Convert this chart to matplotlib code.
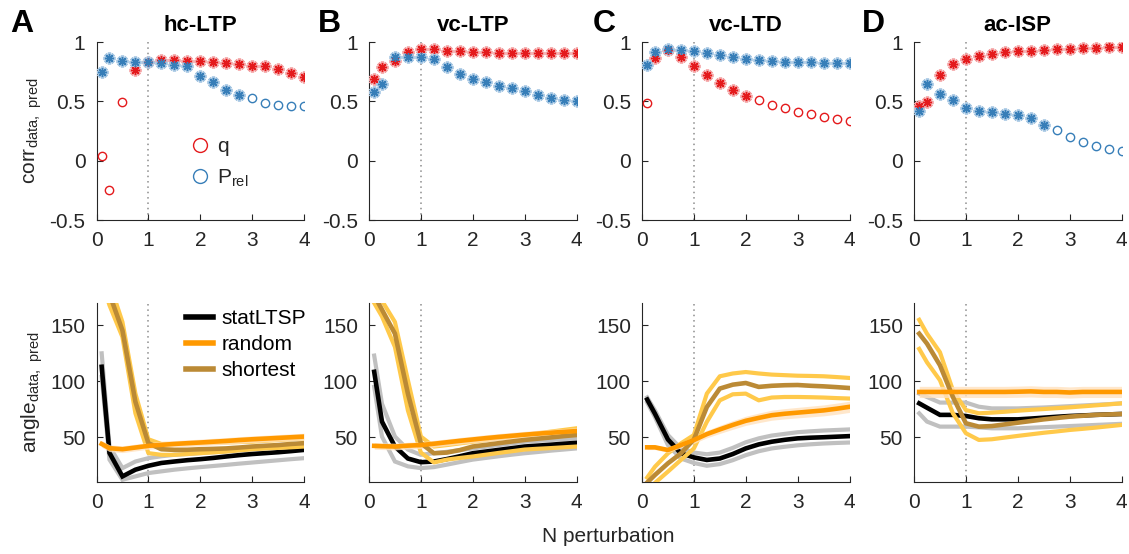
import numpy as np
import matplotlib
matplotlib.use("Agg")
import matplotlib.pyplot as plt
from matplotlib.lines import Line2D

plt.rcParams['font.family'] = ['Liberation Sans', 'DejaVu Sans']
plt.rcParams['mathtext.fontset'] = 'custom'
plt.rcParams['mathtext.rm'] = 'Liberation Sans'

# ---------------- data ----------------
panels = ["hc-LTP", "vc-LTP", "vc-LTD", "ac-ISP"]
letters = ["A", "B", "C", "D"]
n_pert = [0.1, 0.25, 0.5, 0.75, 1.0, 1.25, 1.5, 1.75, 2.0, 2.25, 2.5, 2.75, 3.0, 3.25, 3.5, 3.75, 4.0]

# correlation (top row): q (red) and P_rel (blue); sig = 1 -> asterisk, 0 -> open circle
corr_q_A = [0.04, -0.245, 0.494, 0.76, 0.834, 0.85, 0.85, 0.84, 0.84, 0.834, 0.826, 0.817, 0.795, 0.80, 0.77, 0.74, 0.705]
sig_q_A = [0, 0, 0, 1, 1, 1, 1, 1, 1, 1, 1, 1, 1, 1, 1, 1, 1]
corr_p_A = [0.747, 0.862, 0.837, 0.834, 0.834, 0.82, 0.81, 0.795, 0.713, 0.66, 0.598, 0.553, 0.525, 0.49, 0.466, 0.46, 0.458]
sig_p_A = [1, 1, 1, 1, 1, 1, 1, 1, 1, 1, 1, 1, 0, 0, 0, 0, 0]

corr_q_B = [0.685, 0.79, 0.837, 0.913, 0.938, 0.938, 0.927, 0.924, 0.918, 0.916, 0.91, 0.91, 0.907, 0.907, 0.907, 0.907, 0.907]
sig_q_B = [1] * 17
corr_p_B = [0.58, 0.643, 0.87, 0.87, 0.874, 0.854, 0.79, 0.733, 0.69, 0.66, 0.632, 0.612, 0.587, 0.556, 0.53, 0.51, 0.503]
sig_p_B = [1] * 17

corr_q_C = [0.49, 0.862, 0.93, 0.874, 0.798, 0.722, 0.657, 0.593, 0.542, 0.508, 0.472, 0.44, 0.413, 0.39, 0.368, 0.35, 0.334]
sig_q_C = [0, 1, 1, 1, 1, 1, 1, 1, 1, 0, 0, 0, 0, 0, 0, 0, 0]
corr_p_C = [0.81, 0.913, 0.94, 0.935, 0.924, 0.907, 0.89, 0.87, 0.86, 0.848, 0.84, 0.83, 0.83, 0.83, 0.826, 0.826, 0.82]
sig_p_C = [1] * 17

corr_q_D = [0.463, 0.494, 0.72, 0.815, 0.854, 0.88, 0.90, 0.913, 0.92, 0.927, 0.935, 0.94, 0.944, 0.95, 0.952, 0.955, 0.96]
sig_q_D = [1] * 17
corr_p_D = [0.416, 0.646, 0.562, 0.508, 0.447, 0.42, 0.407, 0.393, 0.385, 0.357, 0.303, 0.256, 0.197, 0.154, 0.124, 0.098, 0.079]
sig_p_D = [1, 1, 1, 1, 1, 1, 1, 1, 1, 1, 1, 0, 0, 0, 0, 0, 0]

# angle (bottom row)
stat_A = [113, 36, 15, 21, 24.5, 27, 28.3, 29.5, 30.4, 31.5, 32.8, 34, 35, 35.8, 36.6, 37.6, 38.7]
stat_hi_A = [125, 42, 22.4, 28.3, 31.3, 33, 34.3, 35, 35.8, 36.6, 37.4, 38.4, 39.3, 40.2, 41.2, 42, 43]
stat_lo_A = [104, 30, 12, 15, 18, 19.5, 21, 22.2, 23.3, 24.3, 25.3, 26.4, 27.4, 28.4, 29.4, 30.4, 31.3]
rand_A = [44, 40.2, 39.3, 40.8, 42.3, 43.2, 44, 44.7, 45.3, 46, 46.7, 47.5, 48.2, 48.8, 49.4, 50, 50.6]
rand_err_A = [3, 3, 3, 3, 3, 3, 3, 3, 3, 3, 3, 3, 3, 3, 3, 3, 3]
short_A = [197, 178, 145.5, 81.7, 44.7, 39.3, 38.7, 38.8, 39.3, 39.6, 40, 40.8, 41.7, 42.4, 43, 44, 44.7]
short_hi_A = [205, 188, 153, 89, 48.2, 44, 44, 44.3, 44.7, 45, 45.3, 45.7, 46, 46.8, 47.5, 48.2, 49]
short_lo_A = [190, 168, 139.6, 71.4, 35.8, 34.3, 34.3, 35, 35.8, 36.5, 37.2, 38.3, 39.3, 40, 40.5, 41, 41.7]

stat_B = [108.5, 64, 41.7, 31, 27.7, 28.3, 30.5, 33, 35.7, 37.2, 38.7, 40.2, 41.7, 42.5, 43.3, 44.2, 45]
stat_hi_B = [123, 80, 50.6, 39, 34.3, 35.7, 37, 38.5, 40, 41.5, 43, 44.5, 46, 46.8, 47.5, 48.3, 49]
stat_lo_B = [95, 50.6, 28.3, 24, 22.4, 23.3, 25.5, 27.8, 30, 31.5, 33, 34.4, 35.7, 36.8, 38, 39, 40]
rand_B = [42.3, 42, 41.7, 42.5, 43, 44.2, 45.5, 46.8, 48, 49.2, 50.3, 51.3, 52.3, 53.2, 54, 54.8, 55.5]
rand_err_B = [3, 3, 3, 3, 3, 3, 3, 3, 3, 3, 3, 3, 3, 3, 3, 3, 3]
short_B = [177, 164, 142.6, 89, 44.7, 35.7, 36.3, 38.5, 41.7, 43.2, 44.7, 46.2, 47.6, 48.7, 49.8, 51, 52]
short_hi_B = [185, 172, 153, 101, 50.6, 41.7, 43, 44.5, 46, 47.5, 49, 50.5, 52, 53.5, 55, 56.5, 58]
short_lo_B = [170, 158, 130.7, 74, 36.3, 27.5, 30, 31.5, 32.8, 34.4, 36, 37.5, 39, 39.7, 40.3, 41, 41.7]

stat_C = [83.7, 71, 48, 35.6, 32, 29.7, 31, 35, 40, 43.6, 46, 47.7, 49, 49.6, 50, 50.5, 51]
stat_hi_C = [85.6, 74, 52, 40, 36.3, 34.8, 36.3, 40.5, 45.5, 49, 51.5, 53, 54.5, 55.3, 56, 56.5, 57]
stat_lo_C = [81, 68, 43, 31, 27, 24.5, 26, 29.5, 34, 37.5, 40, 41.5, 42.8, 43.7, 44.4, 44.9, 45.3]
rand_C = [41, 41, 38.6, 43, 47.5, 52.8, 57, 61, 64.7, 67.3, 69.7, 71, 72, 73, 74, 75.5, 77.2]
rand_err_C = [2, 2, 2.2, 2.5, 3, 3.3, 3.6, 3.9, 4.1, 4.3, 4.5, 4.6, 4.7, 4.8, 4.9, 5, 5]
short_C = [9.5, 16.3, 26.7, 35.6, 48, 77, 93.5, 97, 98.5, 95, 96, 96.5, 96.7, 96, 95.5, 94.8, 94]
short_hi_C = [14, 23.7, 35.6, 44.5, 52, 89, 104.5, 107, 108.3, 107, 106, 105.5, 105, 104.8, 104.5, 103.8, 103]
short_lo_C = [3, 9.2, 19.3, 29.7, 40, 63.8, 83, 88.4, 89, 83, 85.5, 86, 86, 85.8, 85.5, 85, 84.6]

stat_D = [80.3, 76.4, 70, 70, 69, 67, 66, 66, 66, 66.7, 67.5, 68.3, 69, 69.5, 70, 70.4, 70.8]
stat_hi_D = [89, 86, 81, 81, 81, 77.3, 75.8, 75.8, 75.8, 76.2, 76.6, 77.2, 77.8, 78.4, 79, 79.6, 80.3]
stat_lo_D = [71.4, 64, 59.5, 59.5, 59.5, 58.8, 58, 58, 58, 58.5, 59, 59.5, 60, 60.5, 61, 61.5, 62]
rand_D = [90.5, 90.5, 90.5, 90.5, 90.5, 90.5, 90.5, 90.5, 90.7, 91, 90.5, 90.5, 90, 90.5, 90.5, 90.5, 90.5]
rand_err_D = [5, 5, 5, 5, 5, 5, 5, 5, 5, 5, 5, 5, 5, 5, 5, 5, 5]
short_D = [142.6, 133.7, 114.4, 86, 62.5, 59.5, 60, 61.5, 63, 64.5, 66, 67.2, 68.4, 69.2, 70, 70.4, 70.8]
short_hi_D = [155, 142.6, 126, 92, 74.3, 71.4, 72, 72.8, 73.7, 74.5, 75.2, 76, 76.7, 77.6, 78.5, 79.4, 80.3]
short_lo_D = [129, 117, 101, 71.4, 53.6, 47.6, 48.2, 49.7, 51.2, 52.6, 54, 55.2, 56.5, 57.5, 58.6, 59.8, 61]

corr_q = [corr_q_A, corr_q_B, corr_q_C, corr_q_D]
sig_q = [sig_q_A, sig_q_B, sig_q_C, sig_q_D]
corr_p = [corr_p_A, corr_p_B, corr_p_C, corr_p_D]
sig_p = [sig_p_A, sig_p_B, sig_p_C, sig_p_D]
stat = [stat_A, stat_B, stat_C, stat_D]
stat_hi = [stat_hi_A, stat_hi_B, stat_hi_C, stat_hi_D]
stat_lo = [stat_lo_A, stat_lo_B, stat_lo_C, stat_lo_D]
rand = [rand_A, rand_B, rand_C, rand_D]
rand_err = [rand_err_A, rand_err_B, rand_err_C, rand_err_D]
short = [short_A, short_B, short_C, short_D]
short_hi = [short_hi_A, short_hi_B, short_hi_C, short_hi_D]
short_lo = [short_lo_A, short_lo_B, short_lo_C, short_lo_D]

# ---------------- style ----------------
RED, RED_L = '#e41a1c', '#f4a3a4'
BLUE, BLUE_L = '#377eb8', '#a6c7e3'
BLACK, GRAY = '#000000', '#c0c0c0'
ORANGE, ORANGE_L = '#ff9900', '#ffe2bf'
BROWN, YELLOW = '#bb8a35', '#ffc94a'
AX = '#262626'
FS = 15
W, H = 1129, 554
STAR = (8, 2, 0)

fig = plt.figure(figsize=(W / 100, H / 100), dpi=100)
lefts = [96.5, 369, 642, 914]
letter_x = [10, 318, 593, 862]
aw = 207.5
x = np.array(n_pert)


def style_axes(ax):
    for s in ['top', 'right']:
        ax.spines[s].set_visible(False)
    for s in ['left', 'bottom']:
        ax.spines[s].set_color(AX)
        ax.spines[s].set_linewidth(0.8)
    ax.tick_params(direction='in', length=4, width=0.8, colors=AX,
                   labelsize=FS, pad=8)
    ax.set_xlim(0, 4)
    ax.set_xticks([0, 1, 2, 3, 4])
    ax.axvline(1, color='#8c8c8c', linestyle=(0, (1, 2.5)), linewidth=1.1, zorder=0)


def draw_corr(ax, vals, sig, col, col_l):
    v = np.array(vals)
    s = np.array(sig, dtype=bool)
    ax.plot(x[s], v[s], linestyle='none', marker=STAR, markersize=8.5,
            markeredgewidth=2.4, color=col_l, zorder=3)
    ax.plot(x[s], v[s], linestyle='none', marker=STAR, markersize=6.5,
            markeredgewidth=1.0, color=col, zorder=4)
    ax.plot(x[~s], v[~s], linestyle='none', marker='o', markersize=6,
            markerfacecolor='none', markeredgewidth=1.0, color=col, zorder=4)


for i in range(4):
    # top row
    ax = fig.add_axes([lefts[i] / W, 1 - 220 / H, aw / W, 178 / H])
    style_axes(ax)
    ax.set_ylim(-0.5, 1)
    ax.set_yticks([-0.5, 0, 0.5, 1])
    ax.set_yticklabels(['-0.5', '0', '0.5', '1'])
    draw_corr(ax, corr_q[i], sig_q[i], RED, RED_L)
    draw_corr(ax, corr_p[i], sig_p[i], BLUE, BLUE_L)
    ax.set_title(panels[i], fontsize=16, fontweight='bold', pad=8, color='black')
    fig.text(letter_x[i] / W, 1 - 24 / H, letters[i], fontsize=23,
             fontweight='bold', ha='left', va='center')
    if i == 0:
        ax.set_ylabel(r'corr$_{\mathregular{data,\ pred}}$', fontsize=FS, color=AX, labelpad=4)
        hs = [Line2D([], [], linestyle='none', marker='o', markersize=10,
                     markerfacecolor='none', markeredgecolor=RED, markeredgewidth=1.0),
              Line2D([], [], linestyle='none', marker='o', markersize=10,
                     markerfacecolor='none', markeredgecolor=BLUE, markeredgewidth=1.0)]
        leg = ax.legend(hs, ['q', r'P$_{\mathregular{rel}}$'], loc='upper left',
                        bbox_to_anchor=(0.45, 0.465), frameon=False, fontsize=FS,
                        handlelength=1.0, handletextpad=0.3, labelspacing=0.55,
                        borderpad=0, borderaxespad=0)
        for t in leg.get_texts():
            t.set_color(AX)

    # bottom row
    ax = fig.add_axes([lefts[i] / W, 1 - 482 / H, aw / W, 179 / H])
    style_axes(ax)
    ax.set_ylim(10, 170)
    ax.set_yticks([50, 100, 150])
    ax.plot(x, stat_hi[i], color=GRAY, lw=3.0, solid_joinstyle='miter', zorder=2)
    ax.plot(x, stat_lo[i], color=GRAY, lw=3.0, solid_joinstyle='miter', zorder=2)
    ax.plot(x, stat[i], color=BLACK, lw=3.3, solid_joinstyle='miter', zorder=3)
    ax.plot(x, short_hi[i], color=YELLOW, lw=3.0, zorder=4)
    ax.plot(x, short_lo[i], color=YELLOW, lw=3.0, zorder=4)
    r = np.array(rand[i])
    e = np.array(rand_err[i])
    ax.fill_between(x, r - e, r + e, color=ORANGE_L, alpha=0.8, linewidth=0, zorder=5)
    ax.plot(x, short[i], color=BROWN, lw=3.3, zorder=6)
    ax.plot(x, r, color=ORANGE, lw=3.3, zorder=7)
    if i == 0:
        ax.set_ylabel(r'angle$_{\mathregular{data,\ pred}}$', fontsize=FS, color=AX, labelpad=4)
        hs = [Line2D([], [], color=BLACK, lw=4),
              Line2D([], [], color=ORANGE, lw=4),
              Line2D([], [], color=BROWN, lw=4)]
        leg = ax.legend(hs, ['statLTSP', 'random', 'shortest'], loc='upper left',
                        bbox_to_anchor=(0.43, 0.965), frameon=False, fontsize=FS,
                        handlelength=1.3, handletextpad=0.4, labelspacing=0.33,
                        borderpad=0, borderaxespad=0)
        for t in leg.get_texts():
            t.set_color('black')

fig.text(608 / W, 1 - 537 / H, 'N perturbation', fontsize=FS, color=AX,
         ha='center', va='center')

fig.savefig('out.png', dpi=100)
